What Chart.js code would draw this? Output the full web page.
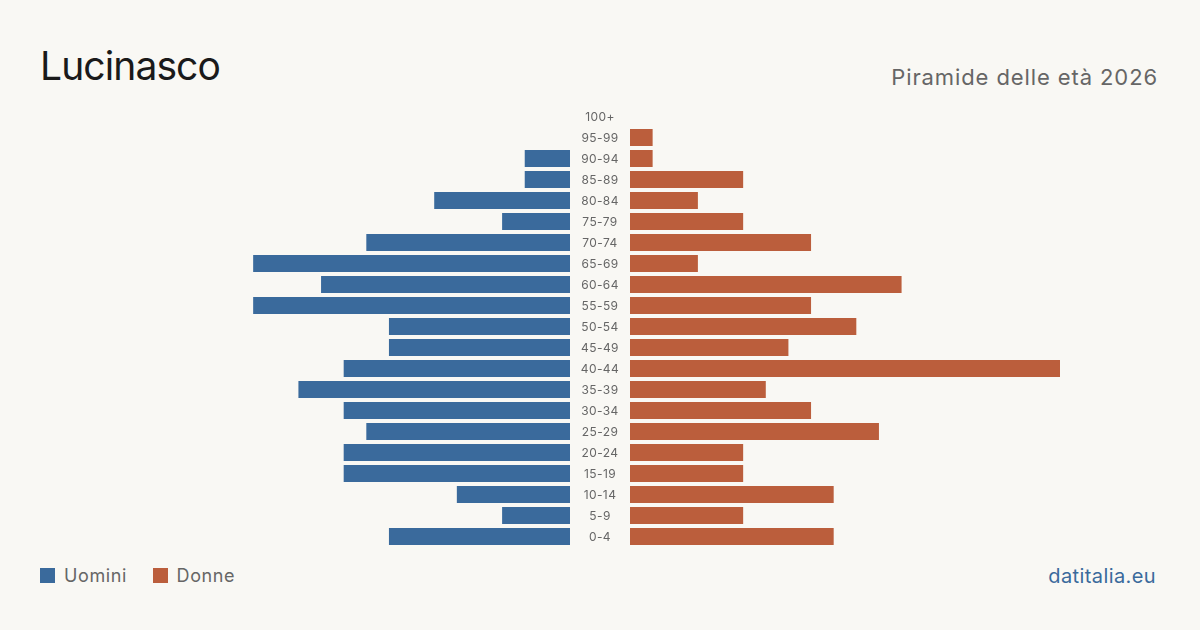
<!DOCTYPE html>
<html>
<head>
<meta charset="utf-8">
<script src="https://cdn.jsdelivr.net/npm/chart.js@4"></script>
<style>
  html, body { margin: 0; padding: 0; }
  body { width: 1200px; height: 630px; background: #f9f8f4; position: relative; overflow: hidden; font-family: Inter, 'Noto Sans', sans-serif; }
  .title { position: absolute; left: 40px; top: 40px; font-size: 39px; letter-spacing: -0.9px; color: #1a1a1a; line-height: 52px; }
  .subtitle { position: absolute; right: 42px; top: 62px; font-size: 22px; letter-spacing: 0.9px; color: #666; line-height: 30px; }
  .box { position: absolute; top: 105.5px; height: 441px; }
  #box-m { left: 140px; width: 430px; }
  #box-f { left: 570px; width: 490px; }
  .legend { position: absolute; left: 40px; top: 564px; font-size: 18px; letter-spacing: 0.6px; color: #666; line-height: 24px; }
  .legend span.sw { display: inline-block; width: 15px; height: 15px; vertical-align: -1px; margin-right: 9px; }
  .legend span.item { margin-right: 20px; }
  .source { position: absolute; right: 44px; top: 562px; font-size: 20px; letter-spacing: 0.4px; color: #3a6a9c; line-height: 28px; }
</style>
</head>
<body>
<div class="title">Lucinasco</div>
<div class="subtitle">Piramide delle età 2026</div>
<div class="box" id="box-m"><canvas id="chart-m"></canvas></div>
<div class="box" id="box-f"><canvas id="chart-f"></canvas></div>
<div class="legend">
  <span class="item"><span class="sw" style="background:#3a6a9c"></span>Uomini</span>
  <span class="item"><span class="sw" style="background:#bb5e3c"></span>Donne</span>
</div>
<div class="source">datitalia.eu</div>
<script>
// fasce d'età dall'alto verso il basso
const AGE_GROUPS = ['100+', '95-99', '90-94', '85-89', '80-84', '75-79', '70-74', '65-69', '60-64', '55-59',
  '50-54', '45-49', '40-44', '35-39', '30-34', '25-29', '20-24', '15-19', '10-14', '5-9', '0-4'];
const MALES   = [0, 0, 2, 2, 6, 3, 9, 14, 11, 14, 8, 8, 10, 12, 10, 9, 10, 10, 5, 3, 8];
const FEMALES = [0, 1, 1, 5, 3, 5, 8, 3, 12, 8, 10, 7, 19, 6, 8, 11, 5, 5, 9, 5, 9];
const X_MAX = 19;

const COLOR_M = '#3a6a9c';
const COLOR_F = '#bb5e3c';
const LABEL_GAP = 60;

Chart.defaults.font.family = "Inter, 'Noto Sans', sans-serif";
Chart.defaults.animation = false;

function baseOptions(reverse, padLeft) {
  return {
    indexAxis: 'y',
    responsive: true, maintainAspectRatio: false,
    layout: { padding: { left: padLeft, right: 0, top: 0, bottom: 0 } },
    plugins: { legend: { display: false }, tooltip: { enabled: false } },
    scales: {
      x: { display: false, min: 0, max: X_MAX, reverse },
      y: { display: false, grid: { display: false } },
    },
  };
}

function barDataset(values, color) {
  return {
    data: values, backgroundColor: color, borderWidth: 0,
    categoryPercentage: 1, barPercentage: 0.81,
  };
}

// etichette delle fasce al centro, allineate alla scala y
const centerLabels = {
  id: 'centerLabels',
  afterDraw(chart) {
    const { ctx, chartArea, scales } = chart;
    ctx.save();
    ctx.font = "12px Inter, 'Noto Sans', sans-serif";
    ctx.letterSpacing = '0.4px';
    ctx.fillStyle = '#666';
    ctx.textAlign = 'center';
    ctx.textBaseline = 'middle';
    const cx = chartArea.left - LABEL_GAP / 2;
    chart.data.labels.forEach((lab, i) => {
      ctx.fillText(lab, cx, scales.y.getPixelForValue(i) + 0.5);
    });
    ctx.restore();
  },
};

new Chart(document.getElementById('chart-m'), {
  type: 'bar',
  data: { labels: AGE_GROUPS, datasets: [barDataset(MALES, COLOR_M)] },
  options: baseOptions(true, 0),
});

new Chart(document.getElementById('chart-f'), {
  type: 'bar',
  data: { labels: AGE_GROUPS, datasets: [barDataset(FEMALES, COLOR_F)] },
  options: baseOptions(false, LABEL_GAP),
  plugins: [centerLabels],
});
</script>
</body>
</html>
